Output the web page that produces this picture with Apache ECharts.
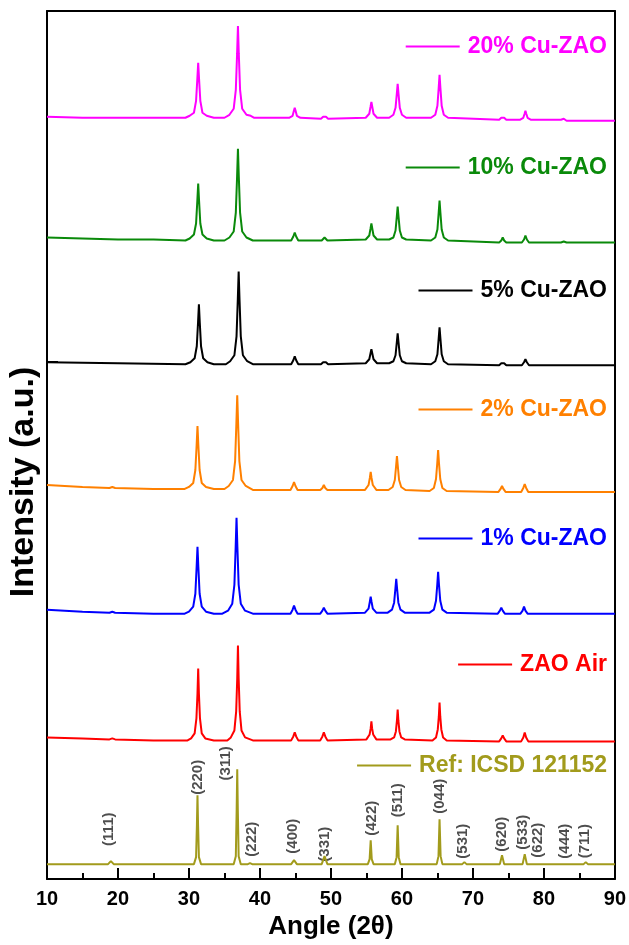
<!DOCTYPE html>
<html>
<head>
<meta charset="utf-8">
<script src="https://cdn.jsdelivr.net/npm/echarts@6/dist/echarts.min.js"></script>
<style>
html,body{margin:0;padding:0;background:#fff;}
#chart{width:629px;height:945px;}
</style>
</head>
<body>
<div id="chart"></div>
<script>
// ---- Data: [2θ (deg), intensity (a.u., stacked)] ----
const seriesNames = ['20% Cu-ZAO','10% Cu-ZAO','5% Cu-ZAO','2% Cu-ZAO','1% Cu-ZAO','ZAO Air','Ref: ICSD 121152'];
const seriesColors = ['#ff00ff','#0a8a0a','#000000','#ff8000','#0000ff','#ff0000','#a29b1c'];

const cu20 = [[10,764],[15,763],[19,763],[25,763],[29.5,763],
 [30.1,765],[30.7,768],[31.0,780],[31.18,802],[31.3,818],[31.42,802],[31.6,780],[31.9,768],[32.5,765],
 [33.5,763],[35,763],
 [35.7,766],[36.3,772],[36.6,791],[36.78,827],[36.9,855],[37.02,827],[37.2,791],[37.5,772],[38.1,766],
 [38.7,765],[39.2,763],[44.1,763],
 [44.6,765],[44.78,770],[44.9,773],[45.02,770],[45.2,765],[45.7,763],
 [48.6,762],[48.9,764],[49.1,766],[49.3,764],[49.6,762],
 [54.9,763],[55.4,767],[55.58,774],[55.7,779],[55.82,774],[56.0,767],[56.5,763],
 [58.2,763],[58.8,766],[59.1,773],[59.28,787],[59.4,797],[59.52,787],[59.7,773],[60.0,766],[60.6,763],
 [64.1,763],[64.7,766],[65.0,775],[65.18,793],[65.3,806],[65.42,793],[65.6,775],[65.9,766],[66.5,763],
 [73.7,761],[74.0,763],[74.2,765],[74.4,763],[74.7,761],
 [76.6,761],[77.1,763],[77.28,767],[77.4,770],[77.52,767],[77.7,763],[78.2,761],
 [82.4,761],[82.8,762],[83.2,760],[90,760]];

const cu10 = [[10,643],[15,642],[20,641],[25,641],[29.5,640],
 [30.1,642],[30.7,646],[31.0,657],[31.18,680],[31.3,697],[31.42,680],[31.6,657],[31.9,646],[32.5,642],
 [33.5,640],[35,640],
 [35.7,643],[36.3,649],[36.6,668],[36.78,704],[36.9,732],[37.02,704],[37.2,668],[37.5,649],[38.1,643],
 [39,640],[44.4,640],[44.7,644],[44.9,648],[45.1,644],[45.4,640],
 [48.7,640],[49.1,643],[49.5,640],
 [54.9,641],[55.4,645],[55.58,652],[55.7,657],[55.82,652],[56.0,645],[56.5,641],
 [58.2,641],[58.8,643],[59.1,650],[59.28,664],[59.4,674],[59.52,664],[59.7,650],[60.0,643],[60.6,641],
 [64.1,640],[64.7,643],[65.0,651],[65.18,668],[65.3,680],[65.42,668],[65.6,651],[65.9,643],[66.5,640],
 [73.7,638],[74.0,640],[74.2,643],[74.4,640],[74.7,638],
 [76.9,638],[77.2,641],[77.4,645],[77.6,641],[77.9,638],
 [82.4,638],[82.8,639],[83.2,638],[90,638]];

const cu5 = [[10,518],[20,517],[29.5,516],
 [30.2,518],[30.8,522],[31.1,534],[31.28,558],[31.4,576],[31.52,558],[31.7,534],[32.0,522],[32.6,518],
 [33.5,516],[35.2,516],
 [35.8,519],[36.4,525],[36.7,544],[36.88,581],[37.0,609],[37.12,581],[37.3,544],[37.6,525],[38.2,519],
 [39,516],[44.4,516],[44.7,520],[44.9,524],[45.1,520],[45.4,516],
 [48.6,516],[48.9,518],[49.1,520],[49.3,518],[49.6,516],
 [54.9,517],[55.4,521],[55.58,527],[55.7,531],[55.82,527],[56.0,521],[56.5,517],
 [58.2,517],[58.8,519],[59.1,525],[59.28,538],[59.4,547],[59.52,538],[59.7,525],[60.0,519],[60.6,517],
 [64.1,516],[64.7,519],[65.0,526],[65.18,542],[65.3,553],[65.42,542],[65.6,526],[65.9,519],[66.5,516],
 [73.7,515],[74.0,517],[74.2,519],[74.4,517],[74.7,515],
 [76.9,515],[77.2,518],[77.4,521],[77.6,518],[77.9,515],
 [90,515]];

const cu2 = [[10,395],[15,393],[18.8,392],[19.2,393],[19.6,392],[25,391],[29.4,391],
 [30.0,393],[30.6,397],[30.9,410],[31.08,435],[31.2,454],[31.32,435],[31.5,410],[31.8,397],[32.4,393],
 [33.5,391],[35,391],
 [35.6,394],[36.2,400],[36.5,419],[36.68,457],[36.8,485],[36.92,457],[37.1,419],[37.4,400],[38.0,394],
 [39,390],[44.3,390],[44.6,394],[44.8,398],[45.0,394],[45.3,390],
 [48.5,390],[48.8,392],[49.0,395],[49.2,392],[49.5,390],
 [54.8,390],[55.3,395],[55.48,402],[55.6,408],[55.72,402],[55.9,395],[56.4,390],
 [58.1,390],[58.7,393],[59.0,400],[59.18,414],[59.3,424],[59.42,414],[59.6,400],[59.9,393],[60.5,390],
 [63.9,389],[64.5,392],[64.8,401],[64.98,417],[65.1,430],[65.22,417],[65.4,401],[65.7,392],[66.3,389],
 [73.6,388],[73.9,391],[74.1,394],[74.3,391],[74.6,388],
 [76.8,388],[77.1,392],[77.3,396],[77.5,392],[77.8,388],
 [90,388]];

const cu1 = [[10,270],[15,268],[18.8,267],[19.2,268],[19.6,267],[25,266],[29.4,266],
 [30.0,268],[30.6,273],[30.9,286],[31.08,313],[31.2,333],[31.32,313],[31.5,286],[31.8,273],[32.4,268],
 [33.5,266],[34.3,266],[34.5,268],[34.7,266],
 [35.5,269],[36.1,276],[36.4,295],[36.58,333],[36.7,362],[36.82,333],[37.0,295],[37.3,276],[37.9,269],
 [39,266],[44.3,266],[44.6,270],[44.8,274],[45.0,270],[45.3,266],
 [48.5,266],[48.8,269],[49.0,272],[49.2,269],[49.5,266],
 [54.8,267],[55.3,271],[55.48,278],[55.6,283],[55.72,278],[55.9,271],[56.4,267],
 [58.0,267],[58.6,270],[58.9,277],[59.08,291],[59.2,301],[59.32,291],[59.5,277],[59.8,270],[60.4,267],
 [63.9,267],[64.5,270],[64.8,279],[64.98,295],[65.1,308],[65.22,295],[65.4,279],[65.7,270],[66.3,267],
 [73.5,266],[73.8,269],[74.0,272],[74.2,269],[74.5,266],
 [76.7,266],[77.0,269],[77.2,273],[77.4,269],[77.7,266],
 [90,266]];

const zaoAir = [[10,142],[15,141],[18.8,140],[19.2,141],[19.6,140],[25,139],[29.8,139],
 [30.3,141],[30.8,146],[31.05,161],[31.2,186],[31.3,211],[31.4,186],[31.55,161],[31.8,146],[32.3,141],
 [33.5,139],[35.4,139],
 [35.9,142],[36.4,149],[36.65,168],[36.8,201],[36.9,234],[37.0,201],[37.15,168],[37.4,149],[37.9,142],
 [39,139],[44.4,139],[44.7,143],[44.9,147],[45.1,143],[45.4,139],
 [48.5,139],[48.8,143],[49.0,147],[49.2,143],[49.5,139],
 [55.0,140],[55.45,145],[55.6,151],[55.7,158],[55.8,151],[55.95,145],[56.4,140],
 [58.4,140],[58.9,142],[59.15,148],[59.3,159],[59.4,170],[59.5,159],[59.65,148],[59.9,142],[60.4,140],
 [64.3,139],[64.8,142],[65.05,150],[65.2,163],[65.3,177],[65.4,163],[65.55,150],[65.8,142],[66.3,139],
 [73.7,138],[74.0,141],[74.2,144],[74.4,141],[74.7,138],
 [76.8,138],[77.1,142],[77.3,147],[77.5,142],[77.8,138],
 [90,138]];

const refIcsd = [[10,15],[18.6,15],[19,18],[19.4,15],
 [30.7,15],[31.0,22],[31.12,55],[31.2,84],[31.28,55],[31.4,22],[31.7,15],
 [36.3,15],[36.6,23],[36.72,70],[36.8,110],[36.88,70],[37.0,23],[37.3,15],
 [38.3,15],[38.6,16],[38.9,15],
 [44.4,15],[44.8,19],[45.2,15],
 [48.7,15],[49.1,23],[49.5,15],
 [55.2,15],[55.45,20],[55.6,39],[55.75,20],[56.0,15],
 [59.0,15],[59.25,22],[59.4,54],[59.55,22],[59.8,15],
 [64.9,15],[65.15,23],[65.3,60],[65.45,23],[65.7,15],
 [68.5,15],[68.8,17],[69.1,15],
 [73.8,15],[74.1,24],[74.4,15],
 [77,15],[77.3,25],[77.6,15],
 [78.2,15],[78.4,16],[78.6,15],
 [82.5,15],[82.7,16],[82.9,15],
 [85.6,15],[85.9,17],[86.2,15],
 [90,15]];

// Miller-index annotations for the reference pattern
const hklText  = ['(111)','(220)','(311)','(222)','(400)','(331)','(422)','(511)','(044)','(531)','(620)','(533)','(622)','(444)','(711)'];
const hklAngle = [18.7,31.2,35.2,38.8,44.7,49.2,55.7,59.4,65.3,68.6,74.1,77.1,79.1,83.0,85.8];
const hklLabelY= [50,102,116,40,43,35,61,79,83,38,45,47,39,38,38];

const xTicks = [10,20,30,40,50,60,70,80,90];
const yRange = [0,870];
const yTickStep = 518;

const allData = [cu20,cu10,cu5,cu2,cu1,zaoAir,refIcsd];
const legendTops = [30,151,274,393,522,648,749];

const FONT = 'Arial, "Liberation Sans", Helvetica, sans-serif';

const series = allData.map((d,i)=>({
  name: seriesNames[i], type:'line', data:d, symbol:'none', smooth:false,
  lineStyle:{color:seriesColors[i], width:2}, itemStyle:{color:seriesColors[i]},
  animation:false, z: 3
}));
series.push({
  type:'scatter', symbolSize:0, silent:true, animation:false,
  data: hklAngle.map((a,i)=>[a,hklLabelY[i],hklText[i]]),
  label:{show:true, position:'inside', rotate:90, formatter:p=>p.data[2],
    color:'#222', fontSize:15, fontWeight:'bold', fontFamily:FONT,
    align:'center', verticalAlign:'middle'}
});

const legends = seriesNames.map((n,i)=>({
  data:[n], right:17, top:legendTops[i], icon:'rect', itemWidth:54, itemHeight:2,
  selectedMode:false, textStyle:{color:seriesColors[i], fontSize:23, fontWeight:'bold', fontFamily:FONT, padding:[0,0,0,3]}
}));

const chart = echarts.init(document.getElementById('chart'), null, {renderer:'canvas'});
chart.setOption({
  backgroundColor:'#fff',
  animation:false,
  grid:{left:47, right:13, top:11, bottom:64},
  legend: legends,
  xAxis:[{
    type:'value', min:xTicks[0], max:xTicks[xTicks.length-1], interval:10,
    name:'Angle (2θ)', nameLocation:'middle', nameGap:30,
    nameTextStyle:{fontSize:26, fontWeight:'bold', color:'#000', fontFamily:FONT},
    axisLine:{show:true, onZero:false, lineStyle:{color:'#000', width:2}},
    axisTick:{show:true, inside:true, length:11, lineStyle:{color:'#000', width:2}},
    minorTick:{show:true, splitNumber:2, length:6, lineStyle:{color:'#000', width:2}},
    axisLabel:{fontSize:20, fontWeight:'bold', color:'#000', fontFamily:FONT, margin:10},
    splitLine:{show:false}
  },{
    type:'value', position:'top', min:10, max:90,
    axisLine:{show:true, onZero:false, lineStyle:{color:'#000', width:2}},
    axisTick:{show:false}, axisLabel:{show:false}, splitLine:{show:false}
  }],
  yAxis:[{
    type:'value', min:yRange[0], max:yRange[1], interval:yTickStep,
    axisLine:{show:true, onZero:false, lineStyle:{color:'#000', width:2}},
    axisTick:{show:true, inside:true, length:11, lineStyle:{color:'#000', width:2}},
    axisLabel:{show:false}, splitLine:{show:false}
  },{
    type:'value', position:'right', min:yRange[0], max:yRange[1],
    axisLine:{show:true, onZero:false, lineStyle:{color:'#000', width:2}},
    axisTick:{show:false}, axisLabel:{show:false}, splitLine:{show:false}
  }],
  graphic:[{
    type:'text', x:24, y:482, rotation:Math.PI/2,
    style:{text:'Intensity (a.u.)', font:'bold 34px '+FONT, fill:'#000', textAlign:'center', textVerticalAlign:'middle'}
  }],
  series: series
});
</script>
</body>
</html>
